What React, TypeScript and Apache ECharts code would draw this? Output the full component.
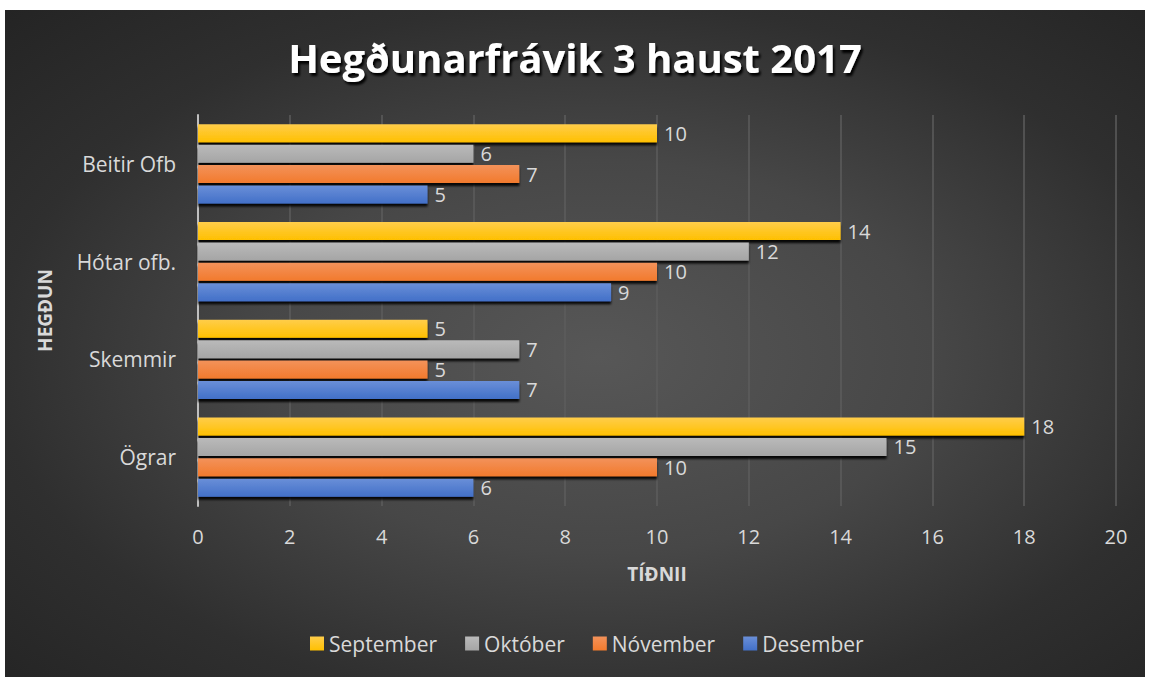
import React, { useEffect, useRef } from "react";
import * as echarts from "echarts";

const categories = ["Ögrar", "Skemmir", "Hótar ofb.", "Beitir Ofb"];
const seriesNames = ["September", "Október", "Nóvember", "Desember"];
const september = [18, 5, 14, 10];
const oktober = [15, 7, 12, 6];
const november = [10, 5, 10, 7];
const desember = [6, 7, 9, 5];
const xTicks = [0, 2, 4, 6, 8, 10, 12, 14, 16, 18, 20];

const FONT = "'Open Sans', 'DejaVu Sans', sans-serif";
const LABEL = "#d9d9d9";

const grad = (top: string, bottom: string) =>
  new echarts.graphic.LinearGradient(0, 0, 0, 1, [
    { offset: 0, color: top },
    { offset: 1, color: bottom },
  ]);

export default function App() {
  const ref = useRef<HTMLDivElement>(null);
  useEffect(() => {
    document.body.style.margin = "0";
    if (!ref.current) return;
    const chart = echarts.init(ref.current, undefined, { renderer: "svg" });
    const colors = [
      ["#ffcd4a", "#ffc000"],
      ["#bababa", "#a5a5a5"],
      ["#f3925a", "#f27a2d"],
      ["#6a8fd8", "#4270c8"],
    ];
    const data = [september, oktober, november, desember];
    const mk = (i: number) => ({
      name: seriesNames[i],
      type: "bar",
      data: data[i],
      barGap: "13%",
      barCategoryGap: "19%",
      itemStyle: {
        color: grad(colors[i][0], colors[i][1]),
        shadowColor: "rgba(0,0,0,0.9)",
        shadowBlur: 2,
        shadowOffsetX: 0,
        shadowOffsetY: 3,
      },
      label: {
        show: true,
        position: "right",
        distance: 7,
        color: LABEL,
        fontFamily: FONT,
        fontSize: 20,
      },
    });
    chart.setOption({
      animation: false,
      backgroundColor: "transparent",
      title: {
        text: "Hegðunarfrávik 3 haust 2017",
        left: "center",
        top: 22,
        textStyle: {
          color: "#ffffff",
          fontFamily: FONT,
          fontWeight: "bold",
          fontSize: 40,
          textShadowColor: "rgba(0,0,0,0.95)",
          textShadowBlur: 2,
          textShadowOffsetX: 2,
          textShadowOffsetY: 3,
        },
      },
      legend: {
        data: seriesNames,
        bottom: 18,
        left: 300,
        icon: "rect",
        itemWidth: 14,
        itemHeight: 14,
        itemGap: 28,
        itemStyle: { shadowBlur: 0, shadowOffsetY: 0, shadowColor: "transparent" },
        textStyle: { color: LABEL, fontFamily: FONT, fontSize: 21 },
      },
      grid: { left: 193, right: 29, top: 105, bottom: 171, containLabel: false },
      xAxis: {
        type: "value",
        min: 0,
        max: 20,
        interval: 2,
        name: "TÍÐNII",
        nameLocation: "middle",
        nameGap: 58,
        nameTextStyle: { color: LABEL, fontFamily: FONT, fontWeight: "bold", fontSize: 19 },
        axisLine: { show: false },
        axisTick: { show: false },
        axisLabel: { color: LABEL, fontFamily: FONT, fontSize: 20, margin: 20 },
        splitLine: { show: true, lineStyle: { color: "#5c5c5c", width: 1.5 } },
      },
      yAxis: {
        type: "category",
        data: categories,
        name: "HEGÐUN",
        nameLocation: "middle",
        nameGap: 144,
        nameTextStyle: { color: LABEL, fontFamily: FONT, fontWeight: "bold", fontSize: 19 },
        axisLine: { show: true, lineStyle: { color: "#bfbfbf", width: 2 } },
        axisTick: { show: false },
        axisLabel: { color: LABEL, fontFamily: FONT, fontSize: 21, margin: 22 },
      },
      series: [mk(0), mk(1), mk(2), mk(3)],
    });
    return () => chart.dispose();
  }, []);
  return (
    <div style={{ position: "relative", width: 1150, height: 677, background: "#ffffff", overflow: "hidden" }}>
      <div
        style={{
          position: "absolute",
          left: 5,
          top: 10,
          width: 1140,
          height: 667,
          background:
            "radial-gradient(ellipse farthest-corner at 52% 52%, #575757 0%, #474747 40%, #2f2f2f 72%, #242424 100%)",
        }}
      >
        <div ref={ref} style={{ width: 1140, height: 667 }} />
      </div>
    </div>
  );
}
